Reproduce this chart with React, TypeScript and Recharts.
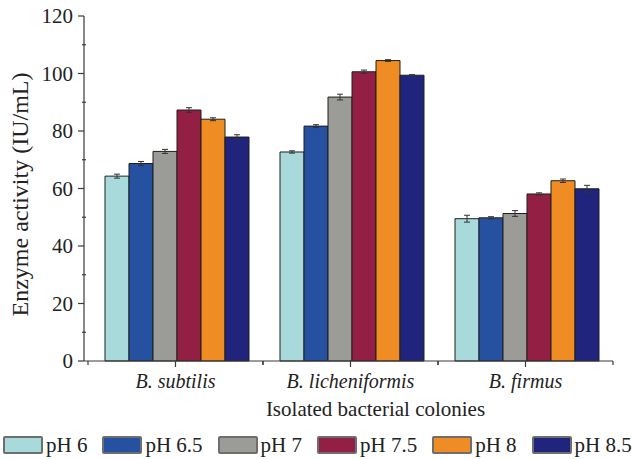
import { Bar, BarChart, ErrorBar, XAxis, YAxis } from "recharts";

const categories = ["B. subtilis", "B. licheniformis", "B. firmus"];
const phLabels = ["pH 6", "pH 6.5", "pH 7", "pH 7.5", "pH 8", "pH 8.5"];

const ph6 = [64.3, 72.7, 49.5];
const ph65 = [68.7, 81.7, 49.8];
const ph7 = [72.9, 91.8, 51.3];
const ph75 = [87.3, 100.6, 58.1];
const ph8 = [84.1, 104.5, 62.7];
const ph85 = [77.9, 99.4, 59.9];

const err6 = [0.7, 0.4, 1.2];
const err65 = [0.7, 0.5, 0.4];
const err7 = [0.7, 1.0, 1.0];
const err75 = [0.8, 0.6, 0.4];
const err8 = [0.5, 0.3, 0.6];
const err85 = [0.8, 0.2, 1.2];

const yTicks = [0, 10, 20, 30, 40, 50, 60, 70, 80, 90, 100, 110, 120];

const colors = ["#a8dadb", "#2651a0", "#9b9b98", "#931f45", "#ef8c23", "#20247c"];

const seriesValues = [ph6, ph65, ph7, ph75, ph8, ph85];
const seriesErrors = [err6, err65, err7, err75, err8, err85];

const data = categories.map((name, i) => {
  const row: Record<string, string | number> = { name };
  seriesValues.forEach((vals, s) => {
    row[`v${s}`] = vals[i];
    row[`e${s}`] = seriesErrors[s][i];
  });
  return row;
});

const FONT = "'Liberation Serif', 'Times New Roman', serif";
const AXIS_X = 84;
const BAND = 175;
const AXIS_COLOR = "#3a3a3a";

function YTick(props: any) {
  const { y, payload } = props;
  const major = payload.value % 20 === 0;
  return (
    <g>
      <line
        x1={major ? AXIS_X - 6 : AXIS_X - 2}
        x2={major ? AXIS_X : AXIS_X + 2}
        y1={y}
        y2={y}
        stroke={AXIS_COLOR}
        strokeWidth={1.2}
      />
      {major && (
        <text x={AXIS_X - 11} y={y} textAnchor="end" dominantBaseline="central" fontSize={21} fontFamily={FONT} fill="#222">
          {payload.value}
        </text>
      )}
    </g>
  );
}

function XTick(props: any) {
  const { x, y, payload } = props;
  return (
    <g>
      <line x1={x} x2={x} y1={y} y2={y + 6} stroke={AXIS_COLOR} strokeWidth={1.2} />
      <line x1={x - BAND / 2} x2={x - BAND / 2} y1={y} y2={y + 4} stroke={AXIS_COLOR} strokeWidth={1.2} />
      <line x1={x + BAND / 2} x2={x + BAND / 2} y1={y} y2={y + 4} stroke={AXIS_COLOR} strokeWidth={1.2} />
      <text x={x} y={y + 27} textAnchor="middle" fontSize={20} fontStyle="italic" fontFamily={FONT} fill="#222">
        {payload.value}
      </text>
    </g>
  );
}

function XTitle(props: any) {
  const { viewBox } = props;
  return (
    <text
      x={viewBox.x + viewBox.width / 2 + 27}
      y={viewBox.y + 55}
      textAnchor="middle"
      fontSize={21}
      fontFamily={FONT}
      fill="#222"
    >
      Isolated bacterial colonies
    </text>
  );
}

function YTitle(props: any) {
  const { viewBox } = props;
  const cy = viewBox.y + viewBox.height / 2 + 6;
  return (
    <text
      x={20}
      y={cy}
      transform={`rotate(-90 20 ${cy})`}
      textAnchor="middle"
      dominantBaseline="central"
      fontSize={24}
      fontFamily={FONT}
      fill="#222"
    >
      Enzyme activity (IU/mL)
    </text>
  );
}

export default function App() {
  return (
    <div style={{ position: "absolute", left: 0, top: 0, width: 635, height: 459, background: "#fff", fontFamily: FONT }}>
      <BarChart
        width={635}
        height={425}
        data={data}
        margin={{ top: 16, right: 22, left: 0, bottom: 0 }}
        barCategoryGap={17}
        barGap={0}
      >
        <XAxis
          dataKey="name"
          height={64}
          padding={{ left: 4, right: 0 }}
          tick={<XTick />}
          tickLine={false}
          tickSize={0}
          tickMargin={0}
          axisLine={{ stroke: AXIS_COLOR, strokeWidth: 1.2 }}
          interval={0}
          label={{ content: <XTitle /> }}
        />
        <YAxis
          width={AXIS_X}
          domain={[0, 120]}
          ticks={yTicks}
          interval={0}
          tick={<YTick />}
          tickLine={false}
          axisLine={{ stroke: AXIS_COLOR, strokeWidth: 1.2 }}
          label={{ content: <YTitle /> }}
        />
        {phLabels.map((label, s) => (
          <Bar
            key={label}
            dataKey={`v${s}`}
            name={label}
            fill={colors[s]}
            stroke="#1e1e1e"
            strokeWidth={1}
            isAnimationActive={false}
          >
            <ErrorBar dataKey={`e${s}`} width={3} stroke="#333" strokeWidth={1} direction="y" />
          </Bar>
        ))}
      </BarChart>
      <div
        style={{
          position: "absolute",
          left: 3,
          top: 436,
          display: "flex",
          alignItems: "center",
          gap: 15,
          whiteSpace: "nowrap",
        }}
      >
        {phLabels.map((label, s) => (
          <div key={label} style={{ display: "flex", alignItems: "center" }}>
            <span
              style={{
                display: "inline-block",
                width: 40,
                height: 18,
                boxSizing: "border-box",
                border: "2px solid #6e6e6e",
                borderRadius: 2,
                background: colors[s],
              }}
            />
            <span style={{ fontSize: 21, marginLeft: 3, lineHeight: "18px", color: "#222" }}>{label}</span>
          </div>
        ))}
      </div>
    </div>
  );
}
